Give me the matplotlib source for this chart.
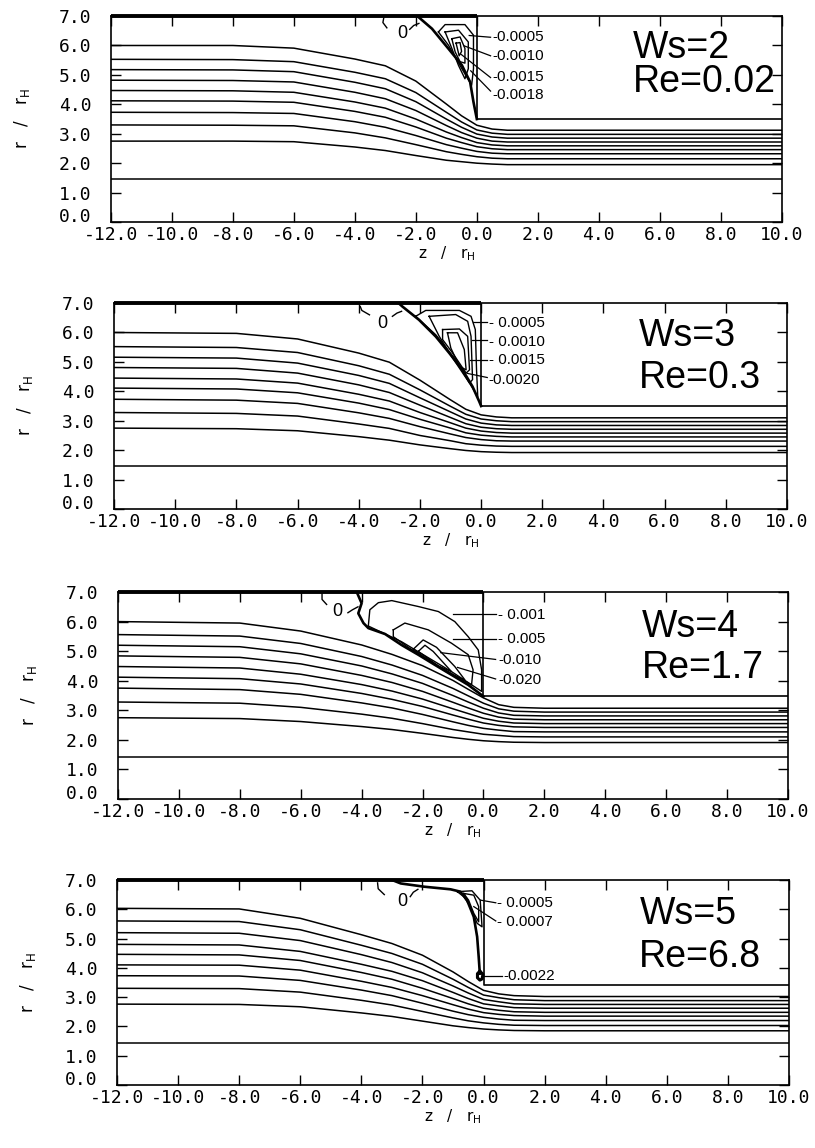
import numpy as np
import matplotlib
matplotlib.use('Agg')
import matplotlib.pyplot as plt
import matplotlib.transforms as mtransforms

plt.rcParams['axes.unicode_minus'] = False

zStations = [-12, -8, -6, -4, -3, -2, -1, -0.5, 0, 0.5, 1, 2, 10]

ws2Lines = [
	[6.00, 6.00, 5.91, 5.54, 5.31, 4.79, 4.01, 3.61, 3.29, 3.16, 3.12, 3.12, 3.12],
	[5.53, 5.52, 5.45, 5.09, 4.87, 4.40, 3.73, 3.40, 3.13, 3.02, 2.98, 2.98, 2.98],
	[5.18, 5.17, 5.11, 4.75, 4.53, 4.09, 3.50, 3.22, 2.99, 2.89, 2.85, 2.85, 2.85],
	[4.82, 4.81, 4.76, 4.41, 4.19, 3.79, 3.28, 3.04, 2.85, 2.75, 2.72, 2.72, 2.72],
	[4.47, 4.46, 4.41, 4.08, 3.87, 3.50, 3.06, 2.87, 2.70, 2.62, 2.59, 2.59, 2.59],
	[4.12, 4.11, 4.07, 3.76, 3.56, 3.23, 2.85, 2.70, 2.56, 2.49, 2.46, 2.46, 2.46],
	[3.73, 3.72, 3.69, 3.41, 3.22, 2.94, 2.63, 2.51, 2.40, 2.34, 2.32, 2.32, 2.32],
	[3.30, 3.29, 3.27, 3.03, 2.86, 2.63, 2.39, 2.30, 2.22, 2.17, 2.15, 2.15, 2.15],
	[2.75, 2.75, 2.73, 2.55, 2.43, 2.26, 2.10, 2.05, 2.00, 1.97, 1.95, 1.95, 1.95]]

ws3Lines = [
	[6.00, 5.97, 5.78, 5.30, 4.99, 4.38, 3.71, 3.39, 3.20, 3.13, 3.10, 3.10, 3.10],
	[5.52, 5.49, 5.32, 4.87, 4.58, 4.05, 3.49, 3.22, 3.06, 3.00, 2.97, 2.97, 2.97],
	[5.16, 5.13, 4.96, 4.54, 4.27, 3.78, 3.30, 3.06, 2.92, 2.86, 2.84, 2.84, 2.84],
	[4.81, 4.78, 4.62, 4.22, 3.96, 3.53, 3.11, 2.90, 2.78, 2.73, 2.71, 2.71, 2.71],
	[4.45, 4.42, 4.28, 3.90, 3.67, 3.28, 2.93, 2.75, 2.65, 2.60, 2.58, 2.58, 2.58],
	[4.11, 4.08, 3.95, 3.60, 3.38, 3.05, 2.75, 2.59, 2.51, 2.47, 2.45, 2.45, 2.45],
	[3.73, 3.70, 3.59, 3.27, 3.08, 2.80, 2.55, 2.43, 2.36, 2.32, 2.31, 2.31, 2.31],
	[3.28, 3.25, 3.16, 2.89, 2.74, 2.50, 2.32, 2.22, 2.17, 2.14, 2.13, 2.13, 2.13],
	[2.75, 2.73, 2.66, 2.46, 2.34, 2.18, 2.05, 1.99, 1.95, 1.93, 1.92, 1.92, 1.92]]

ws4Lines = [
	[6.00, 5.95, 5.68, 5.21, 4.89, 4.51, 4.01, 3.71, 3.42, 3.19, 3.10, 3.07, 3.07],
	[5.56, 5.51, 5.26, 4.82, 4.53, 4.18, 3.74, 3.49, 3.24, 3.05, 2.97, 2.94, 2.94],
	[5.20, 5.15, 4.91, 4.50, 4.23, 3.91, 3.50, 3.28, 3.07, 2.91, 2.83, 2.81, 2.81],
	[4.84, 4.79, 4.57, 4.18, 3.94, 3.64, 3.27, 3.08, 2.90, 2.77, 2.70, 2.68, 2.68],
	[4.48, 4.43, 4.22, 3.87, 3.65, 3.38, 3.05, 2.89, 2.73, 2.63, 2.57, 2.55, 2.55],
	[4.12, 4.07, 3.89, 3.57, 3.37, 3.13, 2.84, 2.70, 2.57, 2.49, 2.44, 2.42, 2.42],
	[3.75, 3.70, 3.54, 3.25, 3.08, 2.86, 2.61, 2.49, 2.39, 2.33, 2.28, 2.27, 2.27],
	[3.28, 3.24, 3.10, 2.87, 2.73, 2.55, 2.35, 2.27, 2.19, 2.15, 2.11, 2.10, 2.10],
	[2.75, 2.72, 2.62, 2.45, 2.35, 2.22, 2.08, 2.02, 1.97, 1.94, 1.92, 1.91, 1.91]]

ws5Lines = [
	[6.03, 6.01, 5.69, 5.13, 4.83, 4.43, 3.86, 3.53, 3.23, 3.11, 3.05, 3.02, 3.02],
	[5.60, 5.58, 5.30, 4.77, 4.49, 4.12, 3.61, 3.33, 3.07, 2.98, 2.91, 2.88, 2.88],
	[5.20, 5.18, 4.93, 4.45, 4.18, 3.83, 3.38, 3.14, 2.92, 2.84, 2.77, 2.75, 2.75],
	[4.80, 4.78, 4.56, 4.12, 3.88, 3.56, 3.16, 2.95, 2.77, 2.70, 2.64, 2.62, 2.62],
	[4.46, 4.44, 4.25, 3.84, 3.61, 3.30, 2.95, 2.77, 2.62, 2.55, 2.50, 2.48, 2.48],
	[4.10, 4.09, 3.92, 3.54, 3.33, 3.05, 2.74, 2.59, 2.47, 2.41, 2.37, 2.35, 2.35],
	[3.73, 3.72, 3.57, 3.24, 3.05, 2.79, 2.52, 2.40, 2.31, 2.25, 2.21, 2.20, 2.20],
	[3.30, 3.29, 3.17, 2.89, 2.73, 2.51, 2.29, 2.19, 2.12, 2.07, 2.04, 2.03, 2.03],
	[2.76, 2.75, 2.67, 2.46, 2.34, 2.18, 2.02, 1.96, 1.91, 1.88, 1.86, 1.85, 1.85]]

coreR = [1.47, 1.45, 1.41, 1.43]      # innermost (flat) streamline
wallR = [3.50, 3.50, 3.47, 3.40]      # radius of the downstream tube
caseText = ['Ws=2\nRe=0.02', 'Ws=3\nRe=0.3', 'Ws=4\nRe=1.7', 'Ws=5\nRe=6.8']

# psi = 0 separating streamline in the salient corner (z list, r list)
ws2Sep = [[-1.95, -1.47, -0.93, -0.49, -0.22, -0.11, 0.0], [7.0, 6.57, 5.89, 5.33, 4.76, 4.08, 3.5]]
ws3Sep = [[-2.7, -2.57, -2.03, -1.48, -1.04, -0.61, -0.28, -0.06, 0.0], [7.0, 6.88, 6.43, 5.86, 5.3, 4.73, 4.16, 3.65, 3.5]]
ws4Sep = [[-4.16, -4.0, -4.11, -3.94, -3.78, -3.23, -2.69, -2.14, -1.6, -1.05, -0.5, 0.0],
	[7.0, 6.62, 6.28, 5.95, 5.78, 5.58, 5.21, 4.88, 4.54, 4.2, 3.86, 3.47]]
ws5Sep = [[-3.0, -2.71, -1.95, -1.08, -0.76, -0.54, -0.32, -0.21, -0.16, -0.13, -0.12],
	[7.0, 6.88, 6.77, 6.68, 6.6, 6.31, 5.74, 5.06, 4.38, 3.92, 3.8]]

# closed vortex contours
ws2Vort = [
	[[-1.26, -1.04, -0.39, -0.11, -0.11, -0.17, -0.49, -0.93, -1.26], [6.46, 6.71, 6.71, 6.35, 5.21, 4.65, 5.21, 6.01, 6.46]],
	[[-1.04, -0.6, -0.28, -0.28, -0.39, -0.6, -0.82, -1.04], [6.46, 6.52, 6.12, 5.21, 4.87, 5.32, 5.9, 6.46]],
	[[-0.82, -0.55, -0.39, -0.39, -0.55, -0.71, -0.82], [6.23, 6.29, 5.9, 5.4, 5.45, 5.78, 6.23]],
	[[-0.68, -0.55, -0.5, -0.58, -0.68], [6.08, 6.1, 5.8, 5.65, 6.08]]]
ws3Vort = [
	[[-2.14, -1.81, -0.71, -0.33, -0.19, -0.15, -0.11, -0.38, -0.83, -1.48, -2.14], [6.55, 6.75, 6.75, 6.55, 6.1, 4.73, 3.82, 4.28, 5.07, 5.92, 6.55]],
	[[-1.7, -0.83, -0.44, -0.33, -0.28, -0.38, -0.93, -1.37, -1.7], [6.55, 6.61, 6.38, 5.87, 4.4, 4.28, 5.13, 5.87, 6.55]],
	[[-1.26, -0.71, -0.44, -0.38, -0.49, -0.93, -1.26, -1.26], [6.1, 6.12, 5.87, 4.73, 4.62, 5.3, 5.76, 6.1]],
	[[-1.1, -0.77, -0.55, -0.49, -0.71, -0.99, -1.1], [5.99, 5.99, 5.42, 4.73, 4.85, 5.47, 5.99]]]
ws4Vort = [
	[[-3.78, -3.73, -3.45, -3.01, -2.14, -1.48, -0.94, -0.5, -0.17, -0.06, -0.06, -1.05, -2.69, -3.78],
		[5.85, 6.4, 6.64, 6.71, 6.51, 6.34, 6.0, 5.49, 5.04, 4.37, 3.64, 4.31, 5.32, 5.85]],
	[[-2.96, -2.58, -1.81, -1.05, -0.5, -0.34, -0.39, -1.48, -2.47, -2.96, -2.96], [5.72, 5.95, 5.72, 5.27, 4.88, 4.37, 3.86, 4.5, 5.13, 5.49, 5.72]],
	[[-2.3, -1.98, -1.54, -0.94, -0.61, -1.05, -1.92, -2.3], [5.07, 5.38, 5.13, 4.48, 4.03, 4.2, 4.76, 5.07]],
	[[-2.14, -1.92, -1.65, -1.05, -1.48, -2.14], [4.99, 5.2, 4.99, 4.31, 4.5, 4.99]]]
ws5Vort = [
	[[-0.86, -0.38, -0.11, -0.05, -0.21, -0.43, -0.65, -0.86], [6.6, 6.63, 6.31, 5.4, 5.52, 6.09, 6.43, 6.6]],
	[[-0.65, -0.32, -0.16, -0.16, -0.32, -0.49, -0.65], [6.54, 6.48, 6.09, 5.57, 5.86, 6.31, 6.54]],
	[[-0.12, -0.02, -0.05, -0.12, -0.2, -0.2, -0.12], [3.88, 3.78, 3.62, 3.58, 3.66, 3.8, 3.88]]]

# contour value labels: text, z of left edge, r; and leader line (z0, z1, r0, r1)
ws2Labels = [['-0.0005', 0.5, 6.28], ['-0.0010', 0.5, 5.63], ['-0.0015', 0.5, 4.94], ['-0.0018', 0.5, 4.33]]
ws2Leaders = [[-0.25, 0.45, 6.34, 6.28], [-0.42, 0.45, 5.99, 5.65], [-0.53, 0.45, 5.71, 4.91], [-0.2, 0.45, 5.14, 4.45]]
ws3Labels = [['- 0.0005', 0.25, 6.32], ['- 0.0010', 0.25, 5.69], ['- 0.0015', 0.25, 5.07], ['-0.0020', 0.25, 4.39]]
ws3Leaders = [[-0.25, 0.2, 6.37, 6.37], [-0.3, 0.2, 5.73, 5.73], [-0.35, 0.2, 5.07, 5.07], [-0.45, 0.2, 4.61, 4.47]]
ws4Labels = [['- 0.001', 0.48, 6.23], ['- 0.005', 0.48, 5.41], ['-0.010', 0.48, 4.71], ['-0.020', 0.48, 4.03]]
ws4Leaders = [[-1.0, 0.4, 6.25, 6.25], [-1.0, 0.4, 5.42, 5.42], [-1.4, 0.4, 4.95, 4.72], [-0.85, 0.4, 4.45, 4.06]]
ws5Labels = [['- 0.0005', 0.44, 6.2], ['- 0.0007', 0.44, 5.57], ['-0.0022', 0.65, 3.72]]
ws5Leaders = [[-0.1, 0.4, 6.31, 6.22], [-0.32, 0.4, 6.09, 5.6], [0.0, 0.6, 3.72, 3.72]]

# "0" label of the psi = 0 line, with the two short contour pieces beside it
zeroPos = [[-2.45, 6.4], [-3.23, 6.32], [-4.79, 6.34], [-2.66, 6.26]]
zeroHookL = [[[-3.05, -3.08, -2.95], [6.95, 6.78, 6.6]], [[-3.95, -3.9, -3.65], [6.88, 6.75, 6.6]],
	[[-5.3, -5.3, -5.15], [6.95, 6.75, 6.58]], [[-3.47, -3.45, -3.25], [6.9, 6.7, 6.5]]]
zeroHookR = [[[-2.2, -2.07, -1.9], [6.55, 6.68, 6.75]], [[-2.9, -2.75, -2.6], [6.55, 6.66, 6.72]],
	[[-4.45, -4.3, -4.12], [6.3, 6.4, 6.5]], [[-2.4, -2.3, -2.15], [6.43, 6.58, 6.68]]]

# position (z, r of the Re baseline) and line spacing of the Ws / Re block
casePos = [[5.1, 4.42], [5.15, 4.11], [5.2, 4.09], [5.1, 4.04]]
caseSpacing = [0.92, 1.23, 1.18, 1.23]

allLines = [ws2Lines, ws3Lines, ws4Lines, ws5Lines]
allSep = [ws2Sep, ws3Sep, ws4Sep, ws5Sep]
allVort = [ws2Vort, ws3Vort, ws4Vort, ws5Vort]
allLabels = [ws2Labels, ws3Labels, ws4Labels, ws5Labels]
allLeaders = [ws2Leaders, ws3Leaders, ws4Leaders, ws5Leaders]

# axes rectangles in figure fraction (scan is slightly skewed)
axRects = [[0.1360, 0.8066, 0.8233, 0.1794],
	[0.1399, 0.5566, 0.8258, 0.1794],
	[0.1448, 0.3040, 0.8220, 0.1803],
	[0.1436, 0.0549, 0.8245, 0.1786]]

tickFont = {'family': 'DejaVu Sans Mono', 'size': 13}

fig = plt.figure(figsize=(8.15, 11.48), dpi=100)
# lift the "0.0" r label a little so it clears the "-12.0" z label
liftUp = mtransforms.ScaledTranslation(0, 7 / 100, fig.dpi_scale_trans)

for p in range(4):
	ax = fig.add_axes(axRects[p])
	ax.set_xlim(-12, 10)
	ax.set_ylim(0, 7)

	for line in allLines[p]:
		ax.plot(zStations, line, color='k', lw=1.1)
	ax.plot([-12, 10], [coreR[p], coreR[p]], color='k', lw=1.1)

	# walls of the contraction
	ax.plot([-12, 0], [7, 7], color='k', lw=2.8, clip_on=False, solid_capstyle='butt')
	ax.plot([0, 0, 10], [7, wallR[p], wallR[p]], color='k', lw=1.2)

	sep = allSep[p]
	ax.plot(sep[0], sep[1], color='k', lw=1.9)
	for c in allVort[p]:
		ax.plot(c[0], c[1], color='k', lw=1.0)
	if p == 3:
		ax.plot(allVort[p][2][0], allVort[p][2][1], color='k', lw=2.2)

	for lab, ld in zip(allLabels[p], allLeaders[p]):
		ax.plot([ld[0], ld[1]], [ld[2], ld[3]], color='k', lw=0.9)
		ax.text(lab[1], lab[2], lab[0], fontsize=11, family='Liberation Sans', ha='left', va='center')

	ax.text(zeroPos[p][0], zeroPos[p][1], '0', fontsize=13, family='Liberation Sans', ha='center', va='center')
	ax.plot(zeroHookL[p][0], zeroHookL[p][1], color='k', lw=1.0)
	ax.plot(zeroHookR[p][0], zeroHookR[p][1], color='k', lw=1.0)

	ax.text(casePos[p][0], casePos[p][1], caseText[p], fontsize=27, family='Liberation Sans',
		ha='left', va='baseline', multialignment='left', linespacing=caseSpacing[p])

	ax.set_xticks(np.arange(-12, 10.1, 2))
	ax.set_yticks(np.arange(0, 7.1, 1))
	ax.set_xticklabels(['%.1f' % v for v in np.arange(-12, 10.1, 2)], fontdict=tickFont)
	ax.set_yticklabels(['%.1f' % v for v in np.arange(0, 7.1, 1)], fontdict=tickFont)
	ax.tick_params(axis='both', direction='in', length=7, width=1.0, top=True, right=True)
	ax.tick_params(axis='x', pad=3)
	ax.tick_params(axis='y', pad=14)
	for s in ax.spines.values():
		s.set_linewidth(1.2)
	zeroLab = ax.get_yticklabels()[0]
	zeroLab.set_transform(zeroLab.get_transform() + liftUp)

	ax.set_xlabel(r'z   /   r$_\mathregular{H}$', fontsize=11, labelpad=0)
	ax.set_ylabel(r'r   /   r$_\mathregular{H}$', fontsize=12)
	ax.yaxis.set_label_coords(-0.118, 0.5)

plt.savefig('out.png', dpi=100)
